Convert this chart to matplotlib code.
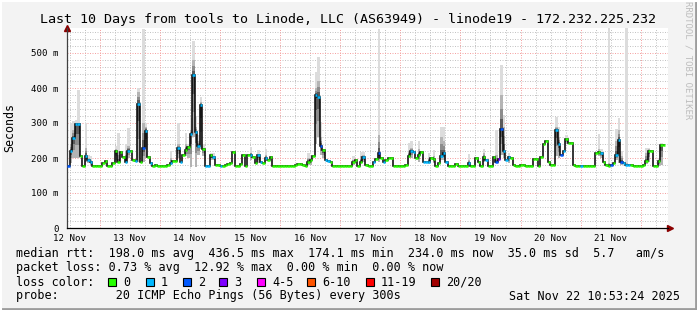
import numpy as np
import matplotlib
matplotlib.use("Agg")
import matplotlib.pyplot as plt
import matplotlib.dates as mdates
from matplotlib.collections import LineCollection
from matplotlib.lines import Line2D
from matplotlib.patches import Rectangle
from matplotlib.ticker import MultipleLocator

plt.rcParams["font.family"] = ["DejaVu Sans Mono"]

START = np.datetime64("2025-11-12T10:53:24")
END = START + np.timedelta64(10, "D")

title = "Last 10 Days from tools to Linode, LLC (AS63949) - linode19 - 172.232.225.232"

# hourly median rtt (ms)
median_ms = [
    177, 220, 256, 296, 296, 207, 178, 207, 194, 188, 178, 178,
    178, 178, 185, 191, 178, 178, 185, 220, 188, 216, 202, 190,
    220, 220, 194, 191, 354, 188, 230, 278, 202, 185, 176, 180,
    178, 178, 178, 178, 180, 185, 191, 191, 229, 188, 208, 222,
    232, 269, 437, 273, 235, 351, 226, 178, 178, 208, 203, 180,
    180, 178, 178, 180, 182, 185, 216, 178, 178, 183, 208, 178,
    210, 210, 202, 185, 208, 188, 185, 200, 194, 202, 178, 178,
    178, 178, 178, 178, 178, 178, 178, 180, 182, 182, 180, 176,
    190, 194, 207, 380, 375, 235, 222, 194, 191, 190, 178, 178,
    178, 178, 178, 178, 178, 178, 190, 194, 178, 188, 202, 180,
    178, 178, 190, 197, 213, 200, 190, 194, 200, 200, 178, 178,
    178, 178, 178, 180, 207, 220, 216, 200, 208, 218, 190, 190,
    190, 200, 196, 178, 185, 207, 213, 190, 176, 176, 178, 182,
    178, 178, 178, 178, 185, 178, 178, 200, 190, 178, 202, 194,
    178, 178, 202, 188, 197, 282, 220, 194, 204, 200, 180, 178,
    178, 180, 180, 176, 178, 178, 197, 197, 178, 202, 240, 248,
    190, 180, 180, 280, 240, 208, 220, 254, 242, 242, 180, 178,
    178, 178, 178, 178, 178, 178, 178, 213, 216, 213, 188, 180,
    176, 180, 185, 208, 251, 190, 185, 180, 180, 180, 178, 178,
    178, 178, 180, 191, 220, 220, 178, 178, 191, 238, 238,
]

# hours with lost pings (index into median_ms)
loss_1 = [1, 2, 3, 4, 7, 8, 9, 23, 24, 27, 28, 31, 33, 41, 44, 45, 49, 50, 51,
          52, 53, 55, 56, 58, 61, 73, 76, 77, 79, 99, 100, 103, 104, 118, 122,
          126, 137, 138, 142, 143, 144, 149, 150, 151, 160, 167, 174, 175, 176,
          195, 196, 198, 205, 213, 219, 220, 222, 223, 224]
loss_2 = [0, 30, 101, 124, 171, 173, 197, 217, 221]
loss_3 = [172]

# smoke: hour, min, upper dense part, max (ms)
smoke_hours = [1, 2, 3, 4, 7, 8, 9, 19, 20, 23, 24, 28, 30, 31, 41, 44, 47, 48,
               49, 50, 51, 52, 53, 54, 57, 58, 73, 76, 79, 96, 97, 99, 100, 101,
               102, 114, 117, 118, 124, 136, 137, 140, 144, 146, 149, 150, 160,
               166, 171, 173, 174, 176, 195, 196, 199, 212, 213, 216, 219, 220,
               221, 223, 231, 232, 236, 237]
smoke_lo = [185, 200, 200, 200, 190, 185, 180, 195, 190, 190, 200, 190, 190, 200,
            180, 200, 205, 200, 175, 260, 175, 210, 225, 205, 195, 195, 195, 185,
            195, 180, 180, 240, 260, 210, 200, 180, 185, 188, 190, 200, 200, 190,
            182, 185, 195, 195, 180, 190, 185, 210, 200, 185, 205, 200, 240, 205,
            200, 178, 195, 185, 180, 178, 182, 190, 178, 180]
smoke_mid = [240, 280, 300, 290, 230, 200, 195, 225, 220, 220, 235, 390, 300, 290,
             200, 240, 240, 235, 280, 480, 290, 250, 360, 230, 210, 205, 215, 205,
             210, 200, 200, 400, 420, 260, 225, 195, 205, 210, 266, 220, 230, 225,
             200, 205, 260, 250, 195, 215, 210, 380, 290, 205, 290, 260, 255, 225,
             218, 185, 250, 280, 205, 185, 215, 225, 195, 230]
smoke_hi = [300, 306, 310, 394, 300, 210, 205, 235, 272, 240, 286, 400, 570, 300,
            220, 300, 272, 240, 313, 534, 320, 265, 375, 240, 214, 214, 232, 222,
            227, 214, 210, 447, 489, 304, 227, 205, 218, 218, 570, 242, 250, 250,
            214, 222, 290, 290, 212, 225, 280, 466, 322, 214, 318, 290, 266, 270,
            225, 570, 282, 313, 220, 570, 230, 230, 200, 242]

loss_colors = ["#26ff00", "#00b8ff", "#0059ff", "#7e00ff",
               "#ff00ff", "#ff5500", "#ff0000", "#a10000"]
loss_labels = ["0", "1", "2", "3", "4-5", "6-10", "11-19", "20/20"]

stats_rtt = "median rtt:  198.0 ms avg  436.5 ms max  174.1 ms min  234.0 ms now  35.0 ms sd  5.7   am/s"
stats_loss = "packet loss: 0.73 % avg  12.92 % max  0.00 % min  0.00 % now"
probe_text = "probe:        20 ICMP Echo Pings (56 Bytes) every 300s"
stamp = "Sat Nov 22 10:53:24 2025"

W, H = 697, 310


def fx(px):
    return px / W


def fy(py):
    return 1 - py / H


def grid_line(ax, v, col, horizontal, z):
    kw = dict(color=col, lw=0.72, ls=(0, (1, 1.5)), zorder=z)
    if horizontal:
        ax.axhline(v, **kw)
    else:
        ax.axvline(v, **kw)


def main():
    n = len(median_ms)
    edges = mdates.date2num(START + np.arange(n + 1) * np.timedelta64(1, "h"))
    x0 = mdates.date2num(START)
    x1 = mdates.date2num(END)
    step = edges[1] - edges[0]
    ymax = 200 / 0.35

    fig = plt.figure(figsize=(W / 100, H / 100), dpi=100)
    fig.patch.set_facecolor("#f3f3f3")
    ax = fig.add_axes([fx(67), fy(228), 601 / W, 200 / H])
    ax.set_facecolor("white")
    ax.set_xlim(x0, x1)
    ax.set_ylim(0, ymax)

    d0, d1 = mdates.num2date(x0), mdates.num2date(x1)
    days = mdates.DayLocator().tick_values(d0, d1)
    for v in mdates.HourLocator(byhour=[0, 6, 12, 18]).tick_values(d0, d1):
        if x0 < v < x1 and v not in days:
            grid_line(ax, v, "#c4c4c4", False, 0)
    for v in MultipleLocator(20).tick_values(0, ymax):
        if 0 < v < ymax and v % 100:
            grid_line(ax, v, "#c4c4c4", True, 0)
    for v in days:
        if x0 < v < x1:
            grid_line(ax, v, "#f5a3a3", False, 0.5)
    for v in MultipleLocator(100).tick_values(0, ymax):
        if 0 < v < ymax:
            grid_line(ax, v, "#f5a3a3", True, 0.5)

    # smoke
    med = np.array(median_ms, dtype=float)
    sh = np.array(smoke_hours)
    lo = np.minimum(np.array(smoke_lo, dtype=float), med[sh])
    mid = np.maximum(np.array(smoke_mid, dtype=float), med[sh])
    hi = np.maximum(np.array(smoke_hi, dtype=float), mid)
    left = edges[sh]
    ax.bar(left, hi - lo, bottom=lo, width=step, align="edge", color="#dcdcdc", lw=0, zorder=1)
    for frac, col in [(1.0, "#b4b4b4"), (0.6, "#8c8c8c"), (0.3, "#5a5a5a")]:
        b = med[sh] - (med[sh] - lo) * frac
        t = med[sh] + (mid - med[sh]) * frac
        ax.bar(left, t - b, bottom=b, width=step, align="edge", color=col, lw=0, zorder=1)

    # median line
    ax.stairs(med, edges, baseline=None, color="black", lw=1.1, zorder=2)
    loss = np.zeros(n, dtype=int)
    loss[loss_1] = 1
    loss[loss_2] = 2
    loss[loss_3] = 3
    segs = [[(edges[i], med[i]), (edges[i + 1], med[i])] for i in range(n)]
    ax.add_collection(LineCollection(segs, colors=[loss_colors[k] for k in loss],
                                     linewidths=1.8, capstyle="butt", zorder=3))

    # axes
    for s in ["top", "right"]:
        ax.spines[s].set_visible(False)
    ax.spines["left"].set_color("#404040")
    ax.spines["bottom"].set_color("black")
    ax.spines["left"].set_linewidth(0.9)
    ax.spines["bottom"].set_linewidth(0.9)
    ax.plot([1.004], [0], marker=">", ms=4.5, color="#8b0000", transform=ax.transAxes, clip_on=False)
    ax.plot([0], [1.0], marker="^", ms=4.5, color="#8b0000", transform=ax.transAxes, clip_on=False)

    ax.xaxis.set_major_locator(mdates.HourLocator(byhour=[12]))
    ax.xaxis.set_major_formatter(mdates.DateFormatter("%d %b"))
    ax.yaxis.set_major_locator(MultipleLocator(100))
    ax.yaxis.set_major_formatter(lambda v, p: "0" if v == 0 else "%d m" % v)
    ax.tick_params(axis="x", length=0, labelsize=6.6, pad=4)
    ax.tick_params(axis="y", length=0, labelsize=6.6, pad=6)

    # text
    fig.text(0.5, fy(19), title, ha="center", va="center", fontsize=9.6)
    fig.text(fx(10), fy(128), "Seconds", rotation=90, ha="center", va="center", fontsize=8.4)
    fig.text(fx(688), fy(60), "RRDTOOL / TOBI OETIKER", rotation=270, ha="center", va="center",
             fontsize=6.5, color="#bdbdbd")
    fig.text(fx(16), fy(254), stats_rtt, va="center", fontsize=8.5)
    fig.text(fx(16), fy(268), stats_loss, va="center", fontsize=8.5)
    fig.text(fx(16), fy(282), "loss color:", va="center", fontsize=8.5)
    fig.text(fx(16), fy(296), probe_text, va="center", fontsize=8.5)
    fig.text(fx(680), fy(296), stamp, ha="right", va="center", fontsize=8.5)

    box_x = [108, 146, 183, 219, 257, 307, 366, 431]
    for bx, col, lab in zip(box_x, loss_colors, loss_labels):
        fig.add_artist(Rectangle((fx(bx), fy(286)), 8 / W, 8 / H, transform=fig.transFigure,
                                 facecolor=col, edgecolor="black", lw=0.8))
        fig.text(fx(bx + 15), fy(282), lab, va="center", fontsize=8.5)

    # frame
    fig.add_artist(Line2D([0, 1], [fy(308.5)] * 2, transform=fig.transFigure, color="#9c9c9c", lw=2))
    fig.add_artist(Line2D([fx(695.5)] * 2, [0, 1], transform=fig.transFigure, color="#9c9c9c", lw=2))
    fig.add_artist(Line2D([0, 1], [fy(0.5)] * 2, transform=fig.transFigure, color="white", lw=1.5))
    fig.add_artist(Line2D([fx(0.5)] * 2, [0, 1], transform=fig.transFigure, color="white", lw=1.5))

    fig.savefig("out.png", dpi=100, facecolor=fig.get_facecolor())


if __name__ == "__main__":
    main()
